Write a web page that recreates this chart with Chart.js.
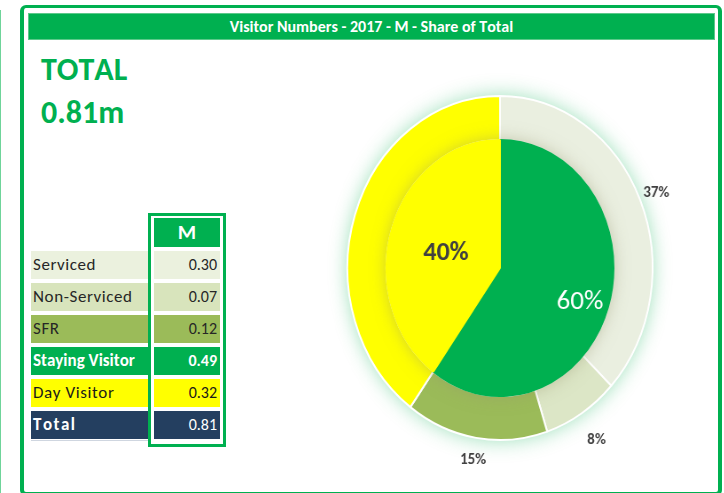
<!doctype html>
<html lang="en">
<head>
<meta charset="utf-8">
<title>Visitor Numbers - 2017 - M - Share of Total</title>
<script src="https://cdn.jsdelivr.net/npm/chart.js@4.4.0/dist/chart.umd.min.js"></script>
<style>
  body {
    margin: 0;
    width: 724px;
    height: 493px;
    overflow: hidden;
    background: #fff;
    position: relative;
    font-family: Carlito, "Liberation Sans", Arial, sans-serif;
    font-kerning: none;
  }
  #edge { position: absolute; left: 0; top: 10px; width: 1px; height: 483px; background: #6fd49a; }
  #frame {
    position: absolute; left: 20px; top: 5px; width: 702px; height: 491px;
    border: 4px solid #00b050; border-top-width: 3px; border-radius: 6px; box-sizing: border-box;
  }
  #title {
    position: absolute; left: 28px; top: 13px; width: 687px; height: 27px;
    box-sizing: border-box; border: 1px solid #5cc98a;
    background: #00b050; color: #fff; font-weight: bold; font-size: 16px;
    line-height: 25px; text-align: center;
  }
  #total {
    position: absolute; left: 41px; top: 48px;
    color: #00b050; font-weight: bold; font-size: 32px; line-height: 43px;
  }
  #mbox {
    position: absolute; left: 148px; top: 213px; width: 78px; height: 234px;
    border: 3px solid #00b050; box-sizing: border-box;
  }
  #mhead {
    position: absolute; left: 154px; top: 218px; width: 66px; height: 29px;
    background: #00b050; color: #fff; font-weight: bold; font-size: 21px;
    line-height: 29px; text-align: center;
  }
  .cell {
    position: absolute; height: 28px; line-height: 28px;
    box-sizing: border-box; white-space: nowrap;
  }
  .lab { left: 31px; width: 117px; padding-left: 2px; font-size: 17px; }
  .val { left: 154px; width: 66px; padding-right: 3px; text-align: right; font-size: 16px; }
  #underline { position: absolute; left: 31px; top: 440px; width: 117px; height: 1px; background: #cfd6e0; }
  #pie {
    position: absolute; left: 280px; top: 48px; width: 440px; height: 440px;
    transform: scaleX(0.887); transform-origin: 50% 50%;
  }
</style>
</head>
<body>
<div id="edge"></div>
<div id="frame"></div>
<div id="title">Visitor Numbers - 2017 - M - Share of Total</div>
<div id="total">TOTAL<br>0.81m</div>
<div id="table"></div>
<div id="mbox"></div>
<div id="mhead">M</div>
<div id="underline"></div>
<div id="pie"><canvas id="myChart" width="440" height="440"></canvas></div>

<script>
// table
const tableHeader = 'M';
const tableLabels = ['Serviced', 'Non-Serviced', 'SFR', 'Staying Visitor', 'Day Visitor', 'Total'];
const tableValues = [0.30, 0.07, 0.12, 0.49, 0.32, 0.81];

// outer ring: staying visitor split by type, plus day visitor
const ringLabels = ['Serviced', 'Non-Serviced', 'SFR', 'Day Visitor'];
const ringShare = [37, 8, 15, 40];
const ringLabelled = [true, true, true, false];

// inner pie
const pieLabels = ['Staying Visitor', 'Day Visitor'];
const pieShare = [60, 40];

// the pie is drawn a little narrower than tall, like the original sheet
const squeeze = 0.887;
const fontFamily = 'Carlito, "Liberation Sans", Arial, sans-serif';

let rowStyle = [
    { bg: '#EBF1DE', fg: '#262626', bold: false, ls: 0.6, valBold: false },
    { bg: '#D8E4BC', fg: '#262626', bold: false, ls: 0.6, valBold: false },
    { bg: '#9BBB59', fg: '#262626', bold: false, ls: 0.6, valBold: false },
    { bg: '#00B050', fg: '#ffffff', bold: true, ls: 0, valBold: true },
    { bg: '#FFFF00', fg: '#1a1a1a', bold: false, ls: 0.6, valBold: false },
    { bg: '#243F60', fg: '#ffffff', bold: true, ls: 1.5, valBold: false }
];

function buildTable() {
    let table = document.getElementById('table');
    tableLabels.forEach((name, i) => {
        let st = rowStyle[i];
        let top = 251 + 32 * i;
        let lab = document.createElement('div');
        lab.className = 'cell lab';
        lab.style.top = top + 'px';
        lab.style.background = st.bg;
        lab.style.color = st.fg;
        lab.style.letterSpacing = st.ls + 'px';
        if (st.bold) lab.style.fontWeight = 'bold';
        lab.innerText = name;
        table.append(lab);

        let val = document.createElement('div');
        val.className = 'cell val';
        val.style.top = top + 'px';
        val.style.background = st.bg;
        val.style.color = st.fg;
        if (st.valBold) val.style.fontWeight = 'bold';
        val.innerText = tableValues[i].toFixed(2);
        table.append(val);
    });
}

function circleUnder(ctx, arc, shadow, blur) {
    ctx.save();
    ctx.beginPath();
    ctx.arc(arc.x, arc.y, arc.outerRadius - 1, 0, Math.PI * 2);
    ctx.fillStyle = '#ffffff';
    ctx.shadowColor = shadow;
    ctx.shadowBlur = blur;
    ctx.fill();
    ctx.restore();
}

// green glow round the ring, soft shadow of the inner pie on the ring
const glowPlugin = {
    id: 'glow',
    beforeDatasetsDraw(chart) {
        circleUnder(chart.ctx, chart.getDatasetMeta(0).data[0], 'rgba(0,176,80,0.45)', 22);
    },
    beforeDatasetDraw(chart, args) {
        if (args.index === 1) {
            circleUnder(chart.ctx, chart.getDatasetMeta(1).data[0], 'rgba(150,150,110,0.55)', 18);
        }
    }
};

// text drawn un-squeezed, centred on its cap height
function putText(ctx, text, x, y, font, size, color) {
    ctx.save();
    ctx.translate(x, y);
    ctx.scale(1 / squeeze, 1);
    ctx.font = font;
    ctx.fillStyle = color;
    ctx.textAlign = 'center';
    ctx.textBaseline = 'alphabetic';
    if ('fontKerning' in ctx) ctx.fontKerning = 'none';
    ctx.fillText(text, 0, size * 0.644 / 2);
    ctx.restore();
}

const labelPlugin = {
    id: 'shareLabels',
    afterDatasetsDraw(chart) {
        let ctx = chart.ctx;

        // outer ring, labels outside the ring
        let outside = [20, 31, 22];
        chart.getDatasetMeta(0).data.forEach((arc, i) => {
            if (!ringLabelled[i]) return;
            let p = arc.getProps(['x', 'y', 'startAngle', 'endAngle', 'outerRadius']);
            let mid = (p.startAngle + p.endAngle) / 2;
            let r = p.outerRadius + outside[i];
            putText(ctx, ringShare[i] + '%', p.x + Math.cos(mid) * r, p.y + Math.sin(mid) * r,
                'bold 15px ' + fontFamily, 15, '#404040');
        });

        // inner pie
        let inner = [
            { f: 0.74, color: '#ffffff', font: '27px ' + fontFamily },
            { f: 0.50, color: '#404040', font: 'bold 26px ' + fontFamily }
        ];
        chart.getDatasetMeta(1).data.forEach((arc, i) => {
            let p = arc.getProps(['x', 'y', 'startAngle', 'endAngle', 'outerRadius']);
            let mid = (p.startAngle + p.endAngle) / 2;
            let r = p.outerRadius * inner[i].f;
            putText(ctx, pieShare[i] + '%', p.x + Math.cos(mid) * r, p.y + Math.sin(mid) * r + 3,
                inner[i].font, 26, inner[i].color);
        });
    }
};

function drawPie() {
    let ctx = document.getElementById('myChart').getContext('2d');
    new Chart(ctx, {
        type: 'doughnut',
        data: {
            labels: ringLabels,
            datasets: [{
                label: 'Type',
                data: ringShare,
                backgroundColor: ['#EAEFE0', '#DCE6C6', '#9BBB59', '#FFFF00'],
                borderColor: '#ffffff',
                borderWidth: 2,
                weight: 44,
                order: 2
            }, {
                label: 'Visitor',
                data: pieShare,
                backgroundColor: ['#00B050', '#FFFF00'],
                borderColor: ['#00B050', '#FFFF00'],
                borderWidth: 2,
                weight: 128,
                order: 1
            }]
        },
        options: {
            responsive: false,
            animation: false,
            cutout: 0,
            layout: { padding: 47 },
            plugins: {
                legend: { display: false },
                tooltip: { enabled: false }
            }
        },
        plugins: [glowPlugin, labelPlugin]
    });
}

window.onload = function () {
    buildTable();
    drawPie();
};
</script>
</body>
</html>
